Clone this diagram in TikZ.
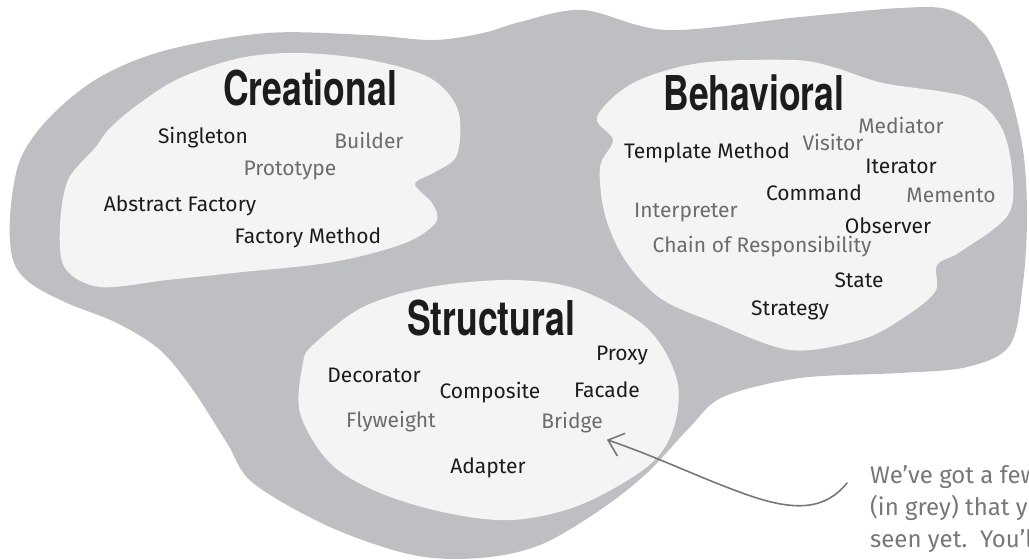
\documentclass[tikz,border=0pt]{standalone}
\usepackage{fontspec}
\setmainfont{Fira Sans}
\newfontfamily\titlefont[FakeStretch=0.74]{TeX Gyre Heros}
\usetikzlibrary{arrows.meta}

\definecolor{gpGray}{HTML}{BEBFC2}
\definecolor{gpLight}{HTML}{F4F4F4}
\definecolor{gpInk}{HTML}{1C1C1C}
\definecolor{gpGrey}{HTML}{6C6C6C}
\definecolor{gpPencil}{HTML}{777777}

\tikzset{
  outerblob/.style={fill=gpGray, draw=none},
  innerblob/.style={fill=gpLight, draw=none},
  grouptitle/.style={anchor=base, inner sep=1pt, text=gpInk,
    font=\titlefont\bfseries\fontsize{48}{50}\selectfont},
  known/.style={anchor=base, inner sep=1pt, text=gpInk,
    font=\fontsize{21}{23}\selectfont},
  unseen/.style={known, text=gpGrey},
  notetext/.style={anchor=north west, inner sep=0pt, align=left, text=gpPencil,
    font=\fontsize{24}{32}\selectfont},
  notearrow/.style={draw=gpPencil, line width=1.6pt, line cap=round,
    -{Straight Barb[length=14pt, width=24pt, line width=1.6pt]}}
}

\begin{document}
\begin{tikzpicture}[x=1pt, y=-1pt]
  \useasboundingbox (0,0) rectangle (1029,560);
  \clip (0,0) rectangle (1029,560);
  % the big grey cloud behind everything
  \fill[outerblob] plot[smooth cycle, tension=0.55] coordinates {
    (10,217) (20,160) (50,117) (100,77) (167,50) (267,33) (367,35) (433,40)
    (483,33) (520,22) (583,10) (667,30) (800,17) (900,8) (950,10) (985,35)
    (1007,83) (1023,150) (1027,217) (1023,283) (1010,345) (967,367) (900,373)
    (800,378) (723,397) (690,427) (647,473) (600,510) (540,545) (480,558)
    (413,555) (330,527) (253,483) (227,443) (193,390) (160,350) (117,323)
    (67,303) (30,283) (13,260)};
  % one light blob per group
  \fill[innerblob] plot[smooth cycle, tension=0.55] coordinates {
    (60,227) (68,180) (95,148) (110,128) (140,103) (180,78) (240,58) (300,53)
    (370,60) (430,78) (458,110) (457,155) (435,172) (415,184) (432,203)
    (436,222) (405,243) (333,262) (233,273) (167,280) (100,287) (65,268)};
  \fill[innerblob] plot[smooth cycle, tension=0.55] coordinates {
    (597,117) (633,83) (700,63) (793,60) (833,67) (883,83) (967,97)
    (1000,125) (1012,170) (1008,215) (960,252) (937,265) (935,292) (900,320)
    (860,340) (790,350) (713,322) (660,298) (625,260) (605,215) (600,167)
    (613,140)};
  \fill[innerblob] plot[smooth cycle, tension=0.55] coordinates {
    (303,363) (313,345) (363,307) (430,287) (513,280) (580,290) (647,328)
    (677,380) (673,430) (647,467) (580,505) (513,520) (447,513) (380,493)
    (330,463) (300,413)};

  % Creational
  \node[grouptitle] (creational) at (310,105) {Creational};
  \node[known]  (singleton) at (203,143) {Singleton};
  \node[unseen] (builder)   at (369,148) {Builder};
  \node[unseen] (prototype) at (290,175) {Prototype};
  \node[known]  (absfact)   at (180,211) {Abstract Factory};
  \node[known]  (factmeth)  at (308,243) {Factory Method};

  % Behavioral
  \node[grouptitle] (behavioral) at (754,110) {Behavioral};
  \node[unseen] (mediator)    at (901,133) {Mediator};
  \node[unseen] (visitor)     at (833,150) {Visitor};
  \node[known]  (template)    at (707,158) {Template Method};
  \node[known]  (iterator)    at (901,173) {Iterator};
  \node[known]  (command)     at (814,200) {Command};
  \node[unseen] (memento)     at (951,202) {Memento};
  \node[unseen] (interpreter) at (686,217) {Interpreter};
  \node[known]  (observer)    at (888,233) {Observer};
  \node[unseen] (chain)       at (762,252) {Chain of Responsibility};
  \node[known]  (state)       at (859,287) {State};
  \node[known]  (strategy)    at (790,315) {Strategy};

  % Structural
  \node[grouptitle] (structural) at (491,335) {Structural};
  \node[known]  (proxy)     at (622,360) {Proxy};
  \node[known]  (decorator) at (374,382) {Decorator};
  \node[known]  (composite) at (490,398) {Composite};
  \node[known]  (facade)    at (607,397) {Facade};
  \node[unseen] (flyweight) at (391,427) {Flyweight};
  \node[unseen] (bridge)    at (572,428) {Bridge};
  \node[known]  (adapter)   at (488,473) {Adapter};

  % pencil note, runs off the page
  \node[notetext] (note) at (870,465)
    {We've got a few patterns\\(in grey) that you haven't\\seen yet.\ \ You'll find an};
  \coordinate (notetail) at (847,483);
  \draw[notearrow] (notetail) .. controls (825,510) and (795,512) .. (745,494)
    .. controls (700,478) and (660,458) .. ([xshift=3pt, yshift=-6pt]bridge.south east);
\end{tikzpicture}
\end{document}
